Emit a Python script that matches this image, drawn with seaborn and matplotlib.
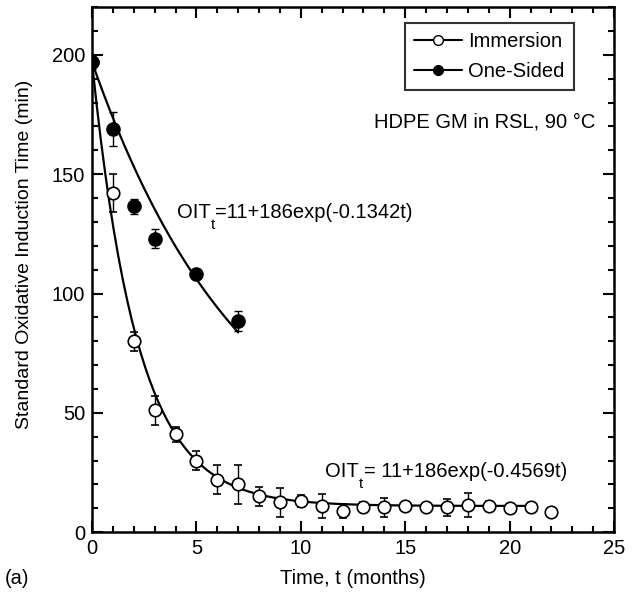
import numpy as np
import pandas as pd
import matplotlib
matplotlib.use("Agg")
import matplotlib.pyplot as plt
from matplotlib.lines import Line2D
from matplotlib.ticker import MultipleLocator
import seaborn as sns

# measured data
imm_t = list(range(0, 23))
imm_oit = [197, 142, 80, 51, 41, 30, 22, 20, 15, 12.5, 13, 11, 9, 10.5, 10.5, 11, 10.5, 10.5, 11.5, 11, 10, 10.5, 8.5]
imm_err = [3, 8, 4, 6, 3, 4, 6, 8, 4, 6, 2.5, 5, 3, 2, 4, 1.5, 1.5, 3.5, 5, 2, 1.5, 1.5, 1]

one_t = [0, 1, 2, 3, 5, 7]
one_oit = [197, 169, 136.5, 123, 108, 88.5]
one_err = [3, 7, 3, 4, 2, 4]

# fitted model parameters, OIT_t = a + b*exp(-k t)
fit_a = 11
fit_b = 186
imm_k = 0.4569
one_k = 0.1342
imm_tmax = 21
one_tmax = 7

sns.set_style("ticks")
plt.rcParams["font.family"] = ["Liberation Sans", "DejaVu Sans"]
plt.rcParams["xtick.direction"] = "in"
plt.rcParams["ytick.direction"] = "in"
for k in ["text.color", "axes.labelcolor", "xtick.color", "ytick.color", "axes.edgecolor"]:
    plt.rcParams[k] = "black"

fs = 14.5

fig = plt.figure(figsize=(6.39, 5.92), dpi=100)
ax = fig.add_axes([0.144, 0.101, 0.817, 0.887])

tt = np.linspace(0, imm_tmax, 200)
fit_imm = pd.DataFrame({"t": tt, "oit": fit_a + fit_b * np.exp(-imm_k * tt)})
tt2 = np.linspace(0, one_tmax, 100)
fit_one = pd.DataFrame({"t": tt2, "oit": fit_a + fit_b * np.exp(-one_k * tt2)})

sns.lineplot(data=fit_imm, x="t", y="oit", ax=ax, color="black", lw=1.6)
sns.lineplot(data=fit_one, x="t", y="oit", ax=ax, color="black", lw=1.6)

ax.errorbar(imm_t, imm_oit, yerr=imm_err, fmt="o", mfc="white", mec="black",
            ecolor="black", ms=9, mew=1.2, elinewidth=1, capsize=3, zorder=3)
ax.errorbar(one_t, one_oit, yerr=one_err, fmt="o", mfc="black", mec="black",
            ecolor="black", ms=9.5, elinewidth=1, capsize=3, zorder=4)

ax.set_xlim(0, 25)
ax.set_ylim(0, 220)
ax.xaxis.set_major_locator(MultipleLocator(5))
ax.xaxis.set_minor_locator(MultipleLocator(1))
ax.yaxis.set_major_locator(MultipleLocator(50))
ax.yaxis.set_minor_locator(MultipleLocator(10))
ax.tick_params(which="both", top=True, right=True, width=1.5, labelsize=fs)
ax.tick_params(which="major", length=8, pad=5)
ax.tick_params(which="minor", length=4)
for s in ax.spines.values():
    s.set_linewidth(1.8)

ax.set_xlabel("Time, t (months)", fontsize=fs, labelpad=8)
ax.set_ylabel("Standard Oxidative Induction Time (min)", fontsize=14)
ax.yaxis.set_label_coords(-0.113, 0.53)

handles = [
    Line2D([], [], color="black", marker="o", mfc="white", mec="black", ms=7, lw=1.5),
    Line2D([], [], color="black", marker="o", mfc="black", mec="black", ms=7, lw=1.5),
]
leg = ax.legend(handles, ["Immersion", "One-Sided"], loc="upper right",
                bbox_to_anchor=(0.923, 0.97), fontsize=fs, frameon=True,
                fancybox=False, edgecolor="black", handlelength=2.4,
                handletextpad=0.3, borderpad=0.45, labelspacing=0.55,
                borderaxespad=0)
leg.get_frame().set_linewidth(1.5)

ax.text(13.5, 169.5, "HDPE GM in RSL, 90 °C", ha="left", va="baseline", fontsize=fs)


def oit_label(x, y, rest):
    o = ax.text(x, y, "OIT", va="baseline", fontsize=fs)
    s = ax.annotate("t", xy=(1, 0), xycoords=o, xytext=(0.3, -7),
                    textcoords="offset points", va="bottom", fontsize=11)
    ax.annotate(rest, xy=(1, 0), xycoords=(s, o), xytext=(0.3, 0),
                textcoords="offset points", va="bottom", fontsize=fs)


oit_label(4.05, 131.5, "=11+186exp(-0.1342t)")
oit_label(11.15, 23, "= 11+186exp(-0.4569t)")

fig.text(0.008, 0.013, "(a)", fontsize=fs)

fig.savefig("out.png", dpi=100)
